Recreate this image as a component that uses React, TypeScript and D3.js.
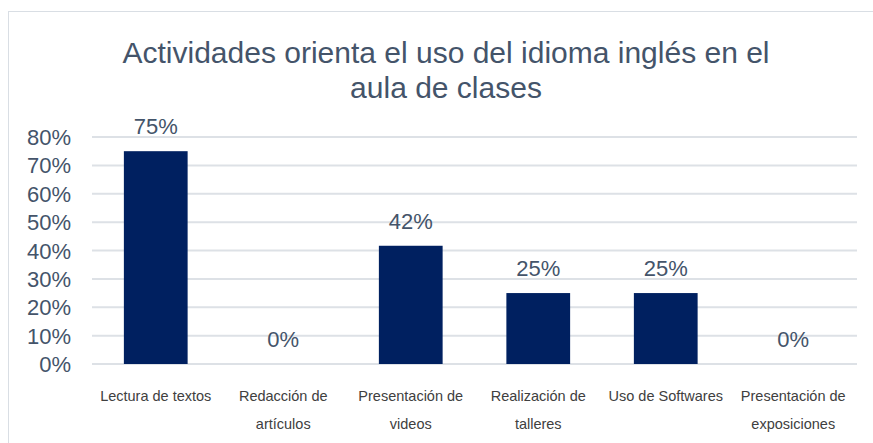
import * as d3 from 'd3';
import * as React from 'react';

const WIDTH = 873;
const HEIGHT = 443;

const categories = [
  ['Lectura de textos'],
  ['Redacción de', 'artículos'],
  ['Presentación de', 'videos'],
  ['Realización de', 'talleres'],
  ['Uso de Softwares'],
  ['Presentación de', 'exposiciones'],
];
const values = [0.75, 0, 0.4167, 0.25, 0.25, 0];
const ticks = [0, 0.1, 0.2, 0.3, 0.4, 0.5, 0.6, 0.7, 0.8];
const titleLines = ['Actividades orienta el uso del idioma inglés en el', 'aula de clases'];

const FONT = '"Liberation Sans", Arial, sans-serif';
const TEXT = '#44546A';

export default function App() {
  const x = d3
    .scaleBand<number>()
    .domain(d3.range(categories.length))
    .range([92, 857])
    .paddingInner(0.5)
    .paddingOuter(0.25);
  const y = d3.scaleLinear().domain([0, 0.8]).range([364, 137]);
  const pct = d3.format('.0%');

  return (
    <svg
      width={WIDTH}
      height={HEIGHT}
      style={{ position: 'absolute', left: 0, top: 0, background: '#fff' }}
    >
      <rect x={8.5} y={11.5} width={880} height={450} fill="#fff" stroke="#D9DEE4" />
      {titleLines.map((t, i) => (
        <text
          key={t}
          x={446}
          y={63 + i * 35}
          textAnchor="middle"
          fontFamily={FONT}
          fontSize={30}
          fill={TEXT}
        >
          {t}
        </text>
      ))}
      {ticks.map(t => (
        <g key={t}>
          <line x1={92} x2={857} y1={y(t)} y2={y(t)} stroke="#DDE1E6" strokeWidth={2} />
          <text
            x={71}
            y={y(t) + 8}
            textAnchor="end"
            fontFamily={FONT}
            fontSize={22}
            fill={TEXT}
          >
            {pct(t)}
          </text>
        </g>
      ))}
      {values.map((v, i) => (
        <g key={i}>
          <rect
            x={x(i) as number}
            y={y(v)}
            width={x.bandwidth()}
            height={y(0) - y(v)}
            fill="#002060"
          />
          <text
            x={(x(i) as number) + x.bandwidth() / 2}
            y={y(v) - 17}
            textAnchor="middle"
            fontFamily={FONT}
            fontSize={22}
            fill={TEXT}
          >
            {pct(v)}
          </text>
          {categories[i].map((line, j) => (
            <text
              key={line}
              x={(x(i) as number) + x.bandwidth() / 2}
              y={401 + j * 28}
              textAnchor="middle"
              fontFamily={FONT}
              fontSize={14.5}
              fill="#404040"
            >
              {line}
            </text>
          ))}
        </g>
      ))}
    </svg>
  );
}
